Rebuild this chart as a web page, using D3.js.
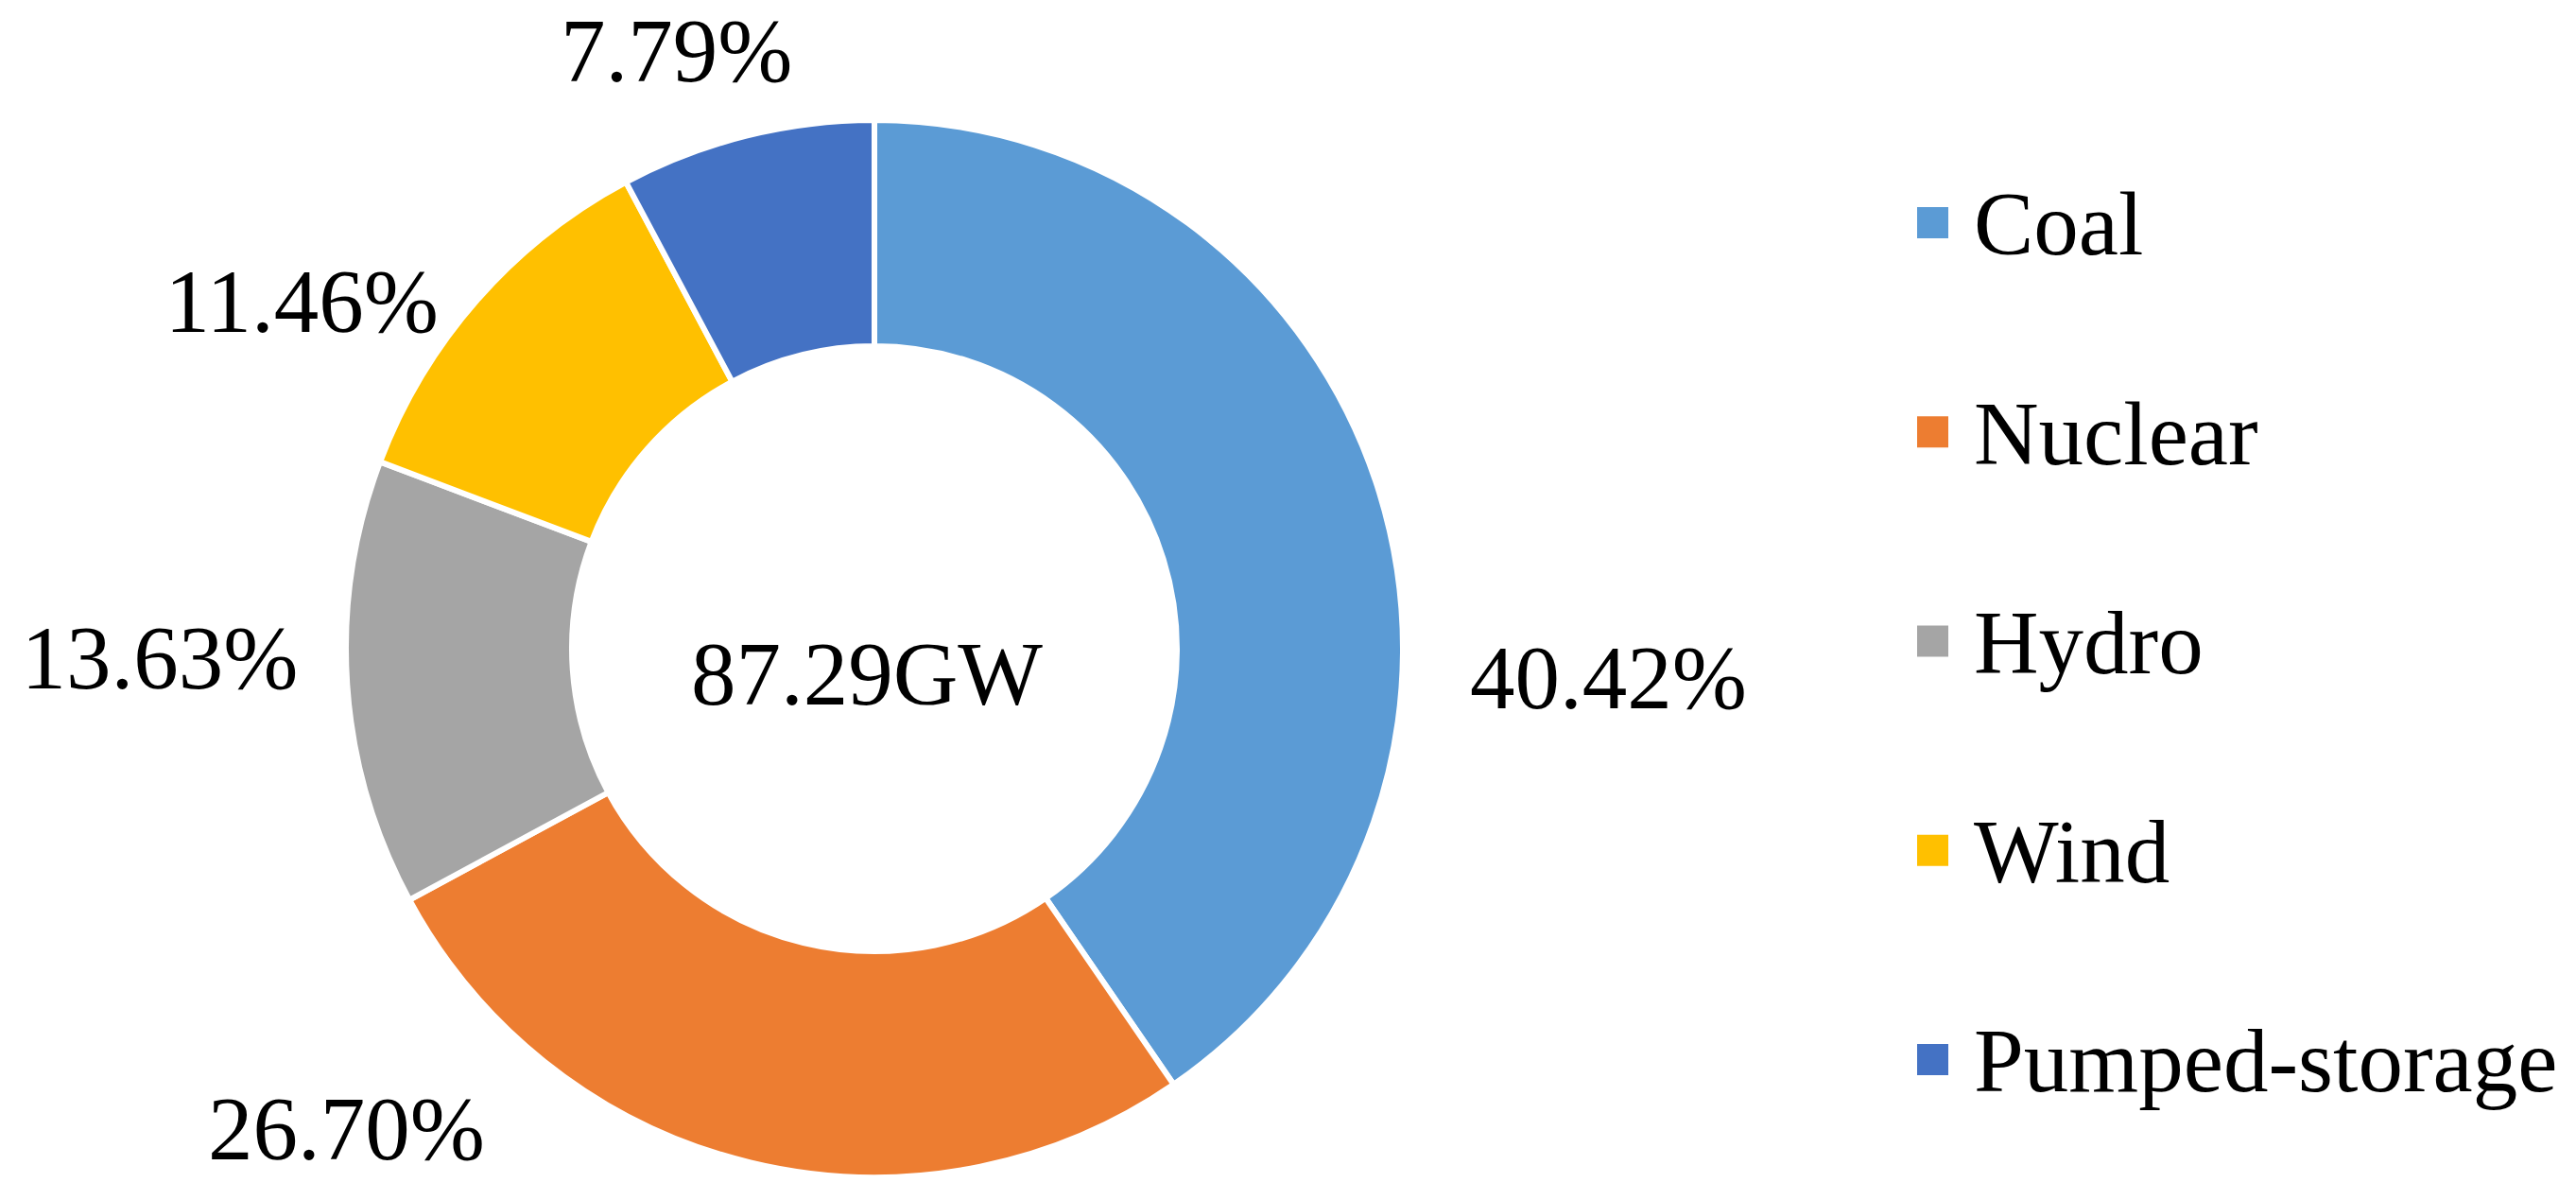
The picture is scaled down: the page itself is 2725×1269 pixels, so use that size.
<!DOCTYPE html>
<html>
<head>
<meta charset="utf-8">
<script src="https://d3js.org/d3.v7.min.js"></script>
<style>body{margin:0;background:#fff}</style>
</head>
<body>
<svg id="chart" width="2725" height="1269"></svg>
<script>
const categories = ['Coal', 'Nuclear', 'Hydro', 'Wind', 'Pumped-storage'];
const shares = [40.42, 26.70, 13.63, 11.46, 7.79];
const colors = ['#5b9bd5', '#ed7d31', '#a5a5a5', '#ffc000', '#4472c4'];
const totalLabel = '87.29GW';
// where the data labels sit (degrees clockwise from top, distance from centre)
const labelAngles = [92.2, 227.8, 269.3, 301.3, 341.7];
const labelRadii = [777, 754, 756, 709, 667];

const cx = 925, cy = 686, outerR = 559, innerR = 320;
const font = 'Liberation Serif, Times New Roman, serif';
const fontSize = 95;

let svg = d3.select('#chart');
let g = svg.append('g').attr('transform', 'translate(' + cx + ',' + cy + ')');

let pie = d3.pie().sort(null).value((d) => d);
let arcs = pie(shares);
let arc = d3.arc().innerRadius(innerR).outerRadius(outerR);

g.selectAll('path')
  .data(arcs)
  .enter()
  .append('path')
  .attr('d', arc)
  .attr('fill', (d, i) => colors[i])
  .attr('stroke', '#fff')
  .attr('stroke-width', 6);

function labelPos(i) {
  let a = (labelAngles[i] * Math.PI) / 180;
  return [Math.sin(a) * labelRadii[i], -Math.cos(a) * labelRadii[i]];
}

g.selectAll('text.lbl')
  .data(arcs)
  .enter()
  .append('text')
  .attr('class', 'lbl')
  .attr('transform', (d, i) => 'translate(' + labelPos(i) + ')')
  .attr('text-anchor', 'middle')
  .attr('dy', '0.35em')
  .attr('font-family', font)
  .attr('font-size', fontSize)
  .text((d) => d.data.toFixed(2) + '%');

g.append('text')
  .attr('text-anchor', 'middle')
  .attr('dy', '0.35em')
  .attr('y', 26)
  .attr('x', -8)
  .attr('font-family', font)
  .attr('font-size', fontSize)
  .text(totalLabel);

let yLegend = d3.scalePoint().domain(categories).range([236, 1121]);
let legend = svg.append('g');
categories.forEach((c, i) => {
  legend.append('rect')
    .attr('x', 2028).attr('y', yLegend(c) - 17)
    .attr('width', 33).attr('height', 33)
    .attr('fill', colors[i]);
  legend.append('text')
    .attr('x', 2088).attr('y', yLegend(c))
    .attr('dy', '0.35em')
    .attr('font-family', font)
    .attr('font-size', fontSize)
    .text(c);
});
</script>
</body>
</html>
